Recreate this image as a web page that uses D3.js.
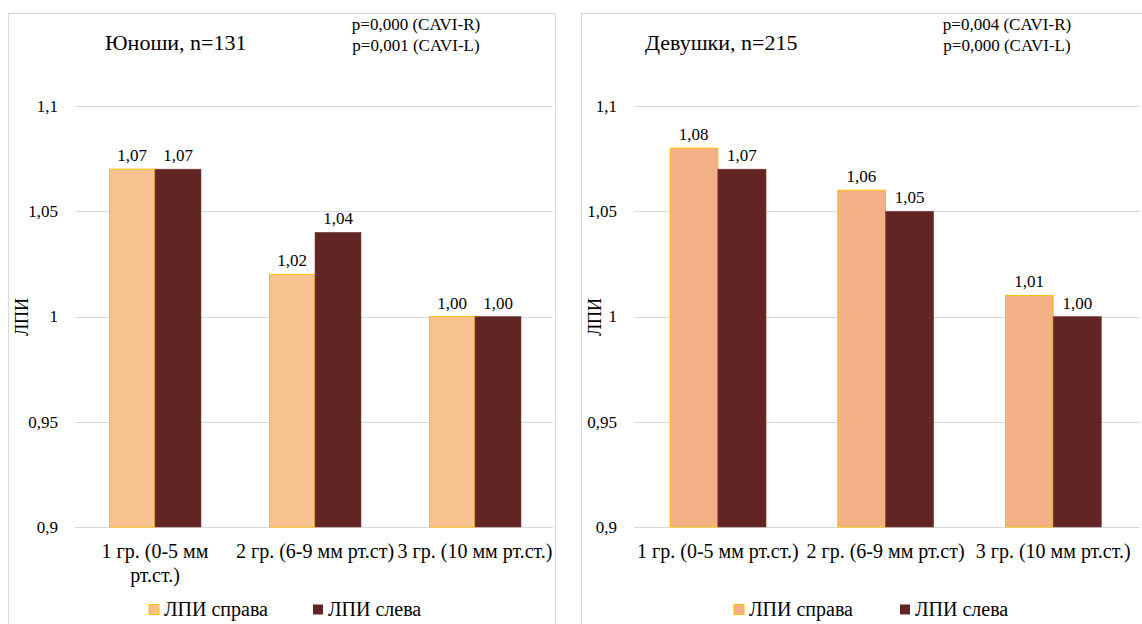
<!DOCTYPE html>
<html><head><meta charset="utf-8">
<script src="https://cdn.jsdelivr.net/npm/d3@7"></script>
<style>body{margin:0;background:#fff}svg{display:block}svg text{font-family:"Liberation Serif","Times New Roman",serif !important;fill:#000}</style>
</head><body><svg id="c" width="1142" height="624"></svg>
<script>
const categories = ["1 гр. (0-5 мм рт.ст.)", "2 гр. (6-9 мм рт.ст)", "3 гр. (10 мм рт.ст.)"];
const seriesNames = ["ЛПИ справа", "ЛПИ слева"];
const boysRight = [1.07, 1.02, 1.00];
const boysLeft = [1.07, 1.04, 1.00];
const girlsRight = [1.08, 1.06, 1.01];
const girlsLeft = [1.07, 1.05, 1.00];
const yTicks = [0.9, 0.95, 1, 1.05, 1.1];
const boysTitle = "Юноши, n=131";
const girlsTitle = "Девушки, n=215";
const boysP = ["p=0,000 (CAVI-R)", "p=0,001 (CAVI-L)"];
const girlsP = ["p=0,004 (CAVI-R)", "p=0,000 (CAVI-L)"];
const yLabel = "ЛПИ";

const svg = d3.select("#c");
const fmtTick = d => String(d).replace(".", ",");
const fmtVal = d => d.toFixed(2).replace(".", ",");

function panel(o) {
  const g = svg.append("g");
  g.append("rect").attr("x", o.bx).attr("y", 13.5).attr("width", o.bw).attr("height", 700)
    .attr("fill", "#fff").attr("stroke", "#d9d9d9").attr("stroke-width", 1);
  const y = d3.scaleLinear().domain([0.9, 1.1]).range([527, 106]);
  const x0 = d3.scaleBand().domain(categories).range([o.px0, o.px1]).paddingInner(o.pad).paddingOuter(o.pad / 2);
  const x1 = d3.scaleBand().domain(seriesNames).range([0, x0.bandwidth()]);
  g.selectAll(".grid").data(yTicks).enter().append("line")
    .attr("x1", o.px0).attr("x2", o.gx1).attr("y1", d => Math.round(y(d)) + 0.5).attr("y2", d => Math.round(y(d)) + 0.5)
    .attr("stroke", "#d9d9d9").attr("stroke-width", 1);
  const ax = d3.axisLeft(y).tickValues(yTicks).tickFormat(fmtTick).tickSize(0).tickPadding(0);
  const ag = g.append("g").attr("transform", `translate(${o.px0 - 17},0)`).call(ax);
  ag.attr("font-family", null).attr("font-size", null);
  ag.select(".domain").remove();
  ag.selectAll("text").attr("font-size", 17).attr("fill", "#000").attr("dy", "0.32em");
  g.append("text").attr("transform", `translate(${o.bx + 19},317) rotate(-90)`).attr("text-anchor", "middle")
    .attr("font-size", 18).text(yLabel);
  const data = categories.map((c, i) => ({c, vals: [o.r[i], o.l[i]]}));
  const grp = g.selectAll(".grp").data(data).enter().append("g").attr("transform", d => `translate(${x0(d.c)},0)`);
  grp.selectAll("rect").data(d => d.vals.map((v, j) => ({v, s: seriesNames[j], j}))).enter().append("rect")
    .attr("x", d => x1(d.s) + (d.j === 0 ? 0.5 : 0)).attr("y", d => y(d.v))
    .attr("width", d => x1.bandwidth() - (d.j === 0 ? 0.5 : 0)).attr("height", d => y(0.9) - y(d.v))
    .attr("fill", d => d.j === 0 ? o.light : "#632523")
    .attr("stroke", d => d.j === 0 ? "#FFC000" : "#7a4a48").attr("stroke-width", d => d.j === 0 ? 1 : 0.6);
  grp.selectAll(".lbl").data(d => d.vals.map((v, j) => ({v, s: seriesNames[j]}))).enter().append("text")
    .attr("x", d => x1(d.s) + x1.bandwidth() / 2).attr("y", d => y(d.v) - 8)
    .attr("text-anchor", "middle").attr("font-size", 17).text(d => fmtVal(d.v));
  const cl = g.selectAll(".cat").data(categories).enter().append("text")
    .attr("text-anchor", "middle").attr("font-size", o.catSize).attr("x", d => x0(d) + x0.bandwidth() / 2).attr("y", 558);
  cl.each(function(d, i) {
    const lines = (o.wrap && i === 0) ? ["1 гр. (0-5 мм", "рт.ст.)"] : [d];
    const t = d3.select(this);
    lines.forEach((ln, k) => t.append("tspan").attr("x", x0(d) + x0.bandwidth() / 2).attr("dy", k ? 24 : 0).text(ln));
  });
  g.append("text").attr("x", o.tx).attr("y", 50).attr("font-size", 22).text(o.title);
  o.p.forEach((s, k) => g.append("text").attr("x", o.ptx).attr("y", 30 + k * 21).attr("text-anchor", "middle").attr("font-size", 17).text(s));
  const leg = g.append("g");
  o.leg.forEach((lx, j) => {
    leg.append("rect").attr("x", lx).attr("y", 604.5).attr("width", 10).attr("height", 10)
      .attr("fill", j === 0 ? o.light : "#632523").attr("stroke", j === 0 ? "#FFC000" : "none");
    leg.append("text").attr("x", lx + 15).attr("y", 616).attr("font-size", 20).text(seriesNames[j]);
  });
}

panel({bx: 8.5, bw: 547, px0: 75, px1: 555, gx1: 553, pad: 0.425, r: boysRight, l: boysLeft, light: "#F8C190",
  title: boysTitle, tx: 105, p: boysP, ptx: 416, leg: [149, 313], wrap: true, catSize: 20});
panel({bx: 581.5, bw: 600, px0: 634, px1: 1137, gx1: 1140, pad: 0.425, r: girlsRight, l: girlsLeft, light: "#F2B084",
  title: girlsTitle, tx: 645, p: girlsP, ptx: 1007, leg: [734, 900], wrap: false, catSize: 20});
</script></body></html>
